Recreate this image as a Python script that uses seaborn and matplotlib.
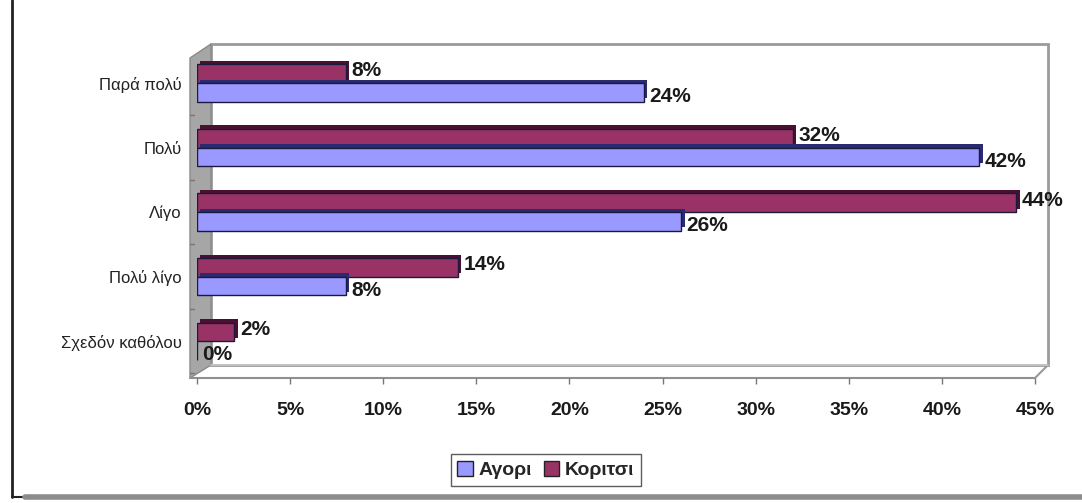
import matplotlib
matplotlib.use("Agg")
import matplotlib.pyplot as plt
import matplotlib.patheffects as pe
from matplotlib.patches import Polygon, Rectangle
from matplotlib.lines import Line2D
import seaborn as sns
import pandas as pd

# Survey answers and percentages per group
categories = ["Παρά πολύ", "Πολύ", "Λίγο", "Πολύ λίγο", "Σχεδόν καθόλου"]
boys = [24, 42, 26, 8, 0]      # Αγορι
girls = [8, 32, 44, 14, 2]     # Κοριτσι
series_names = ["Αγορι", "Κοριτσι"]
x_ticks = [0, 5, 10, 15, 20, 25, 30, 35, 40, 45]

BLUE = "#9999ff"
MAROON = "#993366"

df = pd.DataFrame({
    "cat": categories * 2,
    "val": boys + girls,
    "group": [series_names[0]] * len(categories) + [series_names[1]] * len(categories),
})

sns.set_theme(style="white")
plt.rcParams["font.family"] = ["Liberation Sans", "DejaVu Sans"]

W, H = 1082, 503
fig = plt.figure(figsize=(W / 100, H / 100), dpi=100)


def px(x, y):
    return (x / W, 1 - y / H)


# front plane of the plot area in pixel coordinates
L, R, T, B = 197, 1035, 56, 378
ax = fig.add_axes([L / W, 1 - B / H, (R - L) / W, (B - T) / H])
ax.patch.set_alpha(0)
ax.set_zorder(1)

# back wall, side wall and floor of the 3D box
ft = fig.transFigure
depth = 14
fig.add_artist(Polygon([px(L + depth, T - 12), px(1048, T - 12), px(1048, B - 13),
                        px(L + depth, B - 13)], closed=True, transform=ft,
                       facecolor="white", edgecolor="#9a9a9a", lw=2, zorder=-3))
fig.add_artist(Polygon([px(L - 7, T + 2), px(L + depth, T - 12), px(L + depth, B - 13),
                        px(L - 7, B)], closed=True, transform=ft,
                       facecolor="#a6a6a6", edgecolor="#8a8a8a", lw=1, zorder=-2))
fig.add_artist(Line2D([px(L - 7, B)[0], px(R, B)[0]], [px(0, B)[1], px(0, B)[1]],
                      transform=ft, color="#8f8f8f", lw=1.5, zorder=-1))
fig.add_artist(Line2D([px(R, B)[0], px(1048, B - 13)[0]],
                      [px(R, B)[1], px(1048, B - 13)[1]],
                      transform=ft, color="#9a9a9a", lw=1.5, zorder=-1))
fig.add_artist(Line2D([px(L + depth, B - 13)[0], px(1048, B - 13)[0]],
                      [px(0, B - 13)[1], px(0, B - 13)[1]],
                      transform=ft, color="#c8c8c8", lw=1.2, zorder=-1))

# outer chart frame
fig.add_artist(Line2D([px(12, 0)[0]] * 2, [px(0, 0)[1], px(0, 497)[1]],
                      transform=ft, color="#222222", lw=2))
fig.add_artist(Line2D([px(12, 0)[0], px(25, 0)[0]], [px(0, 497)[1]] * 2,
                      transform=ft, color="#222222", lw=1.5))
fig.add_artist(Line2D([px(25, 0)[0], 1.0], [px(0, 497)[1]] * 2,
                      transform=ft, color="#8c8c8c", lw=4))

sns.barplot(data=df, y="cat", x="val", hue="group", hue_order=["Κοριτσι", "Αγορι"],
            order=categories, orient="h", palette={"Αγορι": BLUE, "Κοριτσι": MAROON},
            width=0.58, edgecolor="#1a1a40", linewidth=1.0, legend=False, ax=ax,
            saturation=1)

shade = {0: "#4a1030", 1: "#2a2a70"}
for i, cont in enumerate(ax.containers):
    for bar in cont:
        bar.set_path_effects([
            pe.SimplePatchShadow(offset=(2.5, 2.5), shadow_rgbFace=shade[i], alpha=1),
            pe.Normal()])
    dy = -2 if i == 0 else 3
    for bar in cont:
        w = bar.get_width()
        ax.annotate(f"{w:.0f}%", (w, bar.get_y() + bar.get_height() / 2),
                    xytext=(4, -dy), textcoords="offset points", ha="left", va="center",
                    fontsize=15, fontweight="bold", color="#1a1a1a",
                    annotation_clip=False)

ax.set_xlim(0, 45)
ax.set_ylim(4.57, -0.42)
ax.set_xticks(x_ticks)
ax.set_xticklabels([f"{t}%" for t in x_ticks], fontsize=14, fontweight="bold",
                   color="#1a1a1a")
ax.tick_params(axis="x", length=4, width=1, color="#777777", pad=13, bottom=True)
ax.tick_params(axis="y", length=0, pad=11, labelsize=12, labelcolor="#222222")
ax.set_xlabel("")
ax.set_ylabel("")
for s in ax.spines.values():
    s.set_visible(False)

# y separator ticks on the side wall
for k in range(1, len(categories) + 1):
    y = k - 0.5
    ax.plot([-0.35, -0.15], [y, y], color="#777777", lw=1, clip_on=False,
            transform=ax.transData)

handles = [Rectangle((0, 0), 1, 1, facecolor=BLUE, edgecolor="#222222"),
           Rectangle((0, 0), 1, 1, facecolor=MAROON, edgecolor="#222222")]
fig.legend(handles, series_names, loc="center", bbox_to_anchor=(546 / W, 1 - 470 / H),
           ncol=2, frameon=True, fancybox=False, edgecolor="#333333",
           prop={"size": 14, "weight": "bold"}, handlelength=0.8, handleheight=0.8,
           handletextpad=0.3, columnspacing=0.6, borderpad=0.35)

fig.savefig("out.png", dpi=100)
